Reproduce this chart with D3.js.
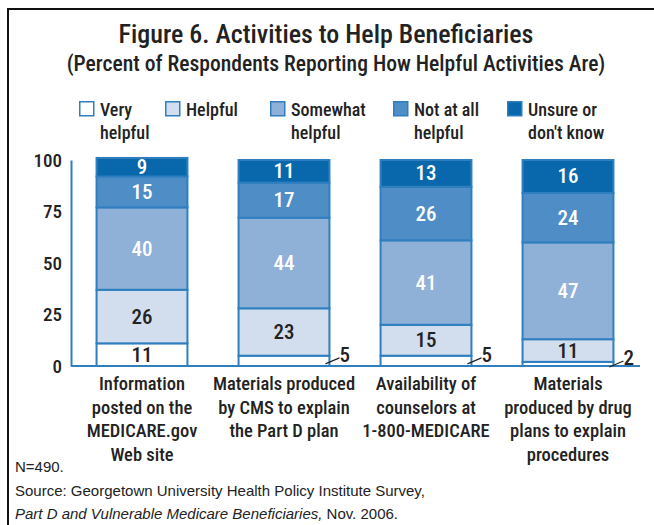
<!DOCTYPE html>
<html>
<head>
<meta charset="utf-8">
<script src="https://cdn.jsdelivr.net/npm/d3@7"></script>
<style>
  body { margin: 0; background: #fff; }
  svg { display: block; }
  .cond { font-family: "Roboto", sans-serif; font-stretch: 75%; font-weight: 460; }
  .foot { font-family: "Liberation Sans", Arial, sans-serif; }
</style>
</head>
<body>
<svg id="chart" width="654" height="525"></svg>
<script>
const categories = [
  ['Information', 'posted on the', 'MEDICARE.gov', 'Web site'],
  ['Materials produced', 'by CMS to explain', 'the Part D plan'],
  ['Availability of', 'counselors at', '1-800-MEDICARE'],
  ['Materials', 'produced by drug', 'plans to explain', 'procedures']
];
const seriesNames = ['Very helpful', 'Helpful', 'Somewhat helpful', 'Not at all helpful', "Unsure or don't know"];
const legendLines = [['Very', 'helpful'], ['Helpful'], ['Somewhat', 'helpful'], ['Not at all', 'helpful'], ['Unsure or', "don't know"]];
const veryHelpful = [11, 5, 5, 2];
const helpful = [26, 23, 15, 11];
const somewhat = [40, 44, 41, 47];
const notAtAll = [15, 17, 26, 24];
const unsure = [9, 11, 13, 16];
const yTicks = [0, 25, 50, 75, 100];

const colors = ['#ffffff', '#d2ddee', '#8fb0d7', '#4f8dc6', '#0868ab'];
const textColors = ['#222', '#222', '#fff', '#fff', '#fff'];
const edge = '#2f7fc0';

const svg = d3.select('#chart');

// frame
svg.append('path')
  .attr('d', 'M660,9 H8 V530')
  .attr('fill', 'none')
  .attr('stroke', '#111')
  .attr('stroke-width', 2);

// titles
svg.append('text').attr('class', 'cond')
  .attr('x', 326).attr('y', 43)
  .attr('text-anchor', 'middle')
  .attr('font-size', 26).attr('fill', '#222')
  .text('Figure 6. Activities to Help Beneficiaries');
svg.append('text').attr('class', 'cond')
  .attr('x', 336).attr('y', 71)
  .attr('text-anchor', 'middle')
  .attr('font-size', 21.6).attr('fill', '#222')
  .text('(Percent of Respondents Reporting How Helpful Activities Are)');

// data table for stacking
const keys = ['v', 'h', 's', 'n', 'u'];
const table = categories.map((c, i) => ({
  idx: i, v: veryHelpful[i], h: helpful[i], s: somewhat[i], n: notAtAll[i], u: unsure[i]
}));
const stacked = d3.stack().keys(keys)(table);

const x = d3.scaleBand()
  .domain(d3.range(categories.length))
  .range([71, 639])
  .paddingInner(0.36)
  .paddingOuter(0.18);
const y = d3.scaleLinear().domain([0, 100]).range([366, 160]);

// legend
const legendX = [79, 165, 270, 393, 507];
const leg = svg.append('g').selectAll('g').data(seriesNames).join('g')
  .attr('transform', (d, i) => `translate(${legendX[i]},101)`);
leg.append('rect')
  .attr('x', 0.75).attr('y', 0.75)
  .attr('width', 14).attr('height', 14)
  .attr('fill', (d, i) => colors[i])
  .attr('stroke', edge).attr('stroke-width', 1.5);
leg.append('text').attr('class', 'cond')
  .attr('font-size', 18).attr('fill', '#222')
  .selectAll('tspan').data((d, i) => legendLines[i]).join('tspan')
  .attr('x', 21).attr('y', (d, j) => 15 + j * 23)
  .text(d => d);

// axes
const yAxis = svg.append('g').attr('transform', 'translate(71,0)')
  .call(d3.axisLeft(y).tickValues(yTicks).tickSize(0).tickPadding(9));
yAxis.select('.domain').attr('stroke', edge).attr('stroke-width', 2);
yAxis.selectAll('text').attr('class', 'cond')
  .attr('font-size', 19).attr('font-weight', 650).attr('fill', '#222');

// bars
const layers = svg.append('g').selectAll('g').data(stacked).join('g')
  .attr('fill', (d, i) => colors[i]);
layers.selectAll('rect').data(d => d).join('rect')
  .attr('x', d => x(d.data.idx))
  .attr('y', d => y(d[1]))
  .attr('width', x.bandwidth())
  .attr('height', d => y(d[0]) - y(d[1]))
  .attr('stroke', edge)
  .attr('stroke-width', 2);

// baseline
svg.append('line')
  .attr('x1', 71).attr('x2', 640)
  .attr('y1', y(0)).attr('y2', y(0))
  .attr('stroke', edge).attr('stroke-width', 2);

// value labels
stacked.forEach((layer, li) => {
  layer.forEach(d => {
    const val = d[1] - d[0];
    const cx = x(d.data.idx) + x.bandwidth() / 2;
    if (val >= 8) {
      svg.append('text').attr('class', 'cond')
        .attr('x', cx).attr('y', (y(d[0]) + y(d[1])) / 2 + 7)
        .attr('text-anchor', 'middle')
        .attr('font-size', 21).attr('fill', textColors[li])
        .text(val);
    } else {
      const rx = x(d.data.idx) + x.bandwidth();
      const my = (y(d[0]) + y(d[1])) / 2;
      svg.append('line')
        .attr('x1', rx - 4).attr('y1', my + 3)
        .attr('x2', rx + 10).attr('y2', my - 3)
        .attr('stroke', '#222').attr('stroke-width', 1.2);
      svg.append('text').attr('class', 'cond')
        .attr('x', rx + 10).attr('y', my + 1)
        .attr('font-size', 21).attr('fill', '#222')
        .text(val);
    }
  });
});

// category labels
svg.append('g').selectAll('text').data(categories).join('text')
  .attr('class', 'cond')
  .attr('font-size', 18.5).attr('fill', '#222').attr('text-anchor', 'middle')
  .selectAll('tspan').data((d, i) => d.map(t => ({ t, i }))).join('tspan')
  .attr('x', d => x(d.i) + x.bandwidth() / 2)
  .attr('y', (d, j) => 390 + j * 23.5)
  .text(d => d.t);

// footnotes
const foot = svg.append('g').attr('class', 'foot').attr('font-size', 15).attr('fill', '#222');
foot.append('text').attr('x', 15).attr('y', 472).text('N=490.');
foot.append('text').attr('x', 15).attr('y', 496)
  .text('Source: Georgetown University Health Policy Institute Survey,');
const l3 = foot.append('text').attr('x', 15).attr('y', 519);
l3.append('tspan').attr('font-style', 'italic').text('Part D and Vulnerable Medicare Beneficiaries,');
l3.append('tspan').text(' Nov. 2006.');
</script>
</body>
</html>
